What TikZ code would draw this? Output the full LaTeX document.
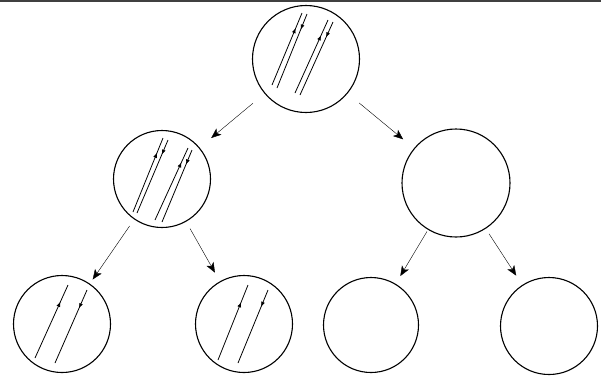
\documentclass[tikz,border=0pt]{standalone}
\usetikzlibrary{arrows.meta,decorations.markings}
\tikzset{
	vessel/.style={circle, draw, line width=1.1pt, minimum size=97pt, inner sep=0pt},
	strand/.style={line width=0.8pt},
	strandtip/.style={strand, postaction={decorate},
		decoration={markings, mark=at position #1 with {\arrow{Latex[length=5pt,width=4pt]}}}}
}
\begin{document}
\begin{tikzpicture}[x=1pt, y=-1pt, >={Stealth[length=10pt,width=8pt,inset=2.5pt]}]
			\useasboundingbox (0,0) rectangle (601,376);
			\draw [line width=2pt, black!75](0,1) -- (601,1);

			\node (gen0)[vessel, minimum size=107pt] at (306,59) {};
			\node (gen1a)[vessel] at (162,179) {};
			\node (gen1b)[vessel, minimum size=108pt] at (456,183) {};
			\node (gen2a)[vessel] at (62,324) {};
			\node (gen2b)[vessel] at (244,324) {};
			\node (gen2c)[vessel, minimum size=95pt] at (371,325) {};
			\node (gen2d)[vessel] at (549,326) {};

			\draw [->, shorten <=15pt, shorten >=15pt](gen0) -- (gen1a);
			\draw [->, shorten <=15pt, shorten >=14pt](gen0) -- (gen1b);
			\draw [->, shorten <=8pt, shorten >=5pt](gen1a) -- (gen2a);
			\draw [->, shorten <=8pt, shorten >=10pt](gen1a) -- (gen2b);
			\draw [->, shorten <=2pt, shorten >=9pt](gen1b) -- (gen2c);
			\draw [->, shorten <=6pt, shorten >=11pt](gen1b) -- (gen2d);

			% parent molecule
			\begin{scope}[shift={(gen0.center)}]
				\draw [strandtip=0.79](-34,26) -- (-4,-46);
				\draw [strandtip=0.21](1,-45) -- (-29,29);
				\draw [strandtip=0.79](-11,34) -- (22,-39);
				\draw [strandtip=0.21](27,-37) -- (-6,36);
			\end{scope}
			\begin{scope}[shift={(gen1a.center)}]
				\draw [strandtip=0.8](-29,33) -- (1,-41);
				\draw [strandtip=0.2](6,-39) -- (-25,34);
				\draw [strandtip=0.8](-7,41) -- (26,-31);
				\draw [strandtip=0.2](30,-29) -- (0,43);
			\end{scope}

			% single strands
			\begin{scope}[shift={(gen2a.center)}]
				\draw [strandtip=0.77](-27,34) -- (6,-39);
				\draw [strandtip=0.25](25,-34) -- (-7,39);
			\end{scope}
			\begin{scope}[shift={(gen2b.center)}]
				\draw [strandtip=0.77](-26,36) -- (4,-39);
				\draw [strandtip=0.23](24,-34) -- (-6,39);
			\end{scope}
		\end{tikzpicture}
\end{document}
